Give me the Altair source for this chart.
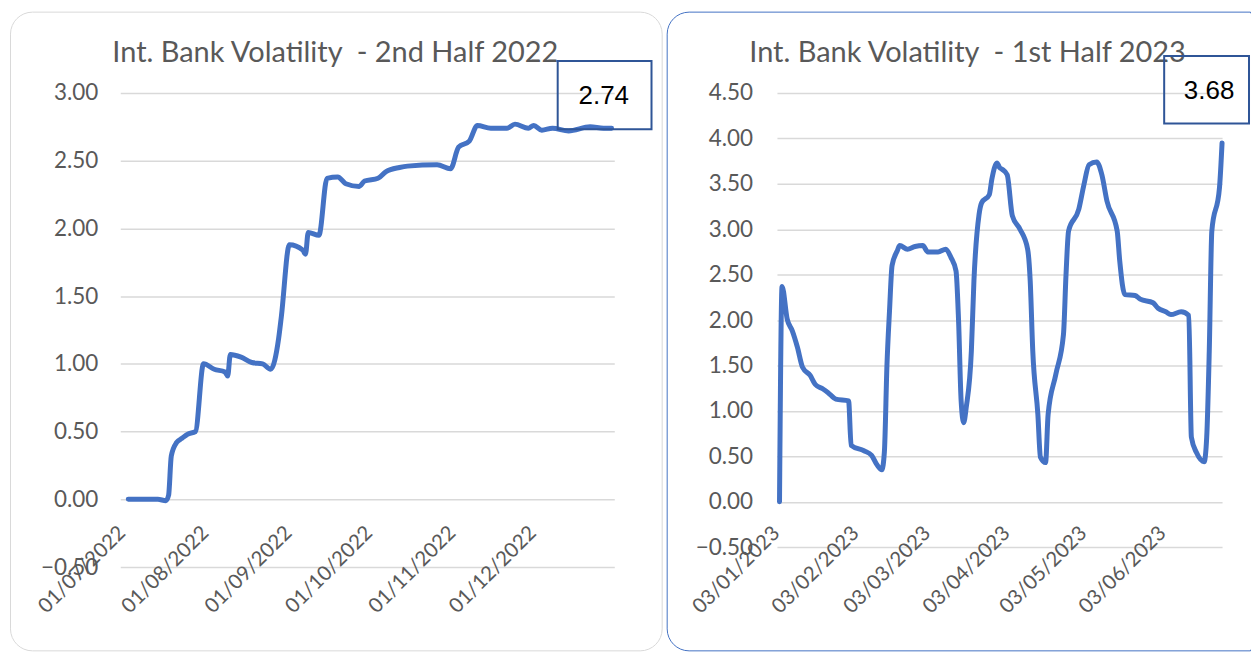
import altair as alt
import pandas as pd

# ---------------- data ----------------
dates_2022 = [
    "2022-07-01", "2022-07-12", "2022-07-15", "2022-07-16", "2022-07-17", "2022-07-19",
    "2022-07-21", "2022-07-23", "2022-07-26", "2022-07-29", "2022-08-02", "2022-08-06",
    "2022-08-07", "2022-08-08", "2022-08-12", "2022-08-16", "2022-08-20", "2022-08-23",
    "2022-08-26", "2022-08-27", "2022-08-30", "2022-09-04", "2022-09-05", "2022-09-06",
    "2022-09-10", "2022-09-13", "2022-09-17", "2022-09-20", "2022-09-25", "2022-09-27",
    "2022-10-02", "2022-10-05", "2022-10-10", "2022-10-13", "2022-10-24", "2022-10-29",
    "2022-11-01", "2022-11-05", "2022-11-08", "2022-11-13", "2022-11-19", "2022-11-22",
    "2022-11-27", "2022-11-29", "2022-12-02", "2022-12-06", "2022-12-12", "2022-12-20",
    "2022-12-25", "2022-12-28",
]
vol_2022 = [
    0.00, 0.00, -0.01, 0.03, 0.32, 0.42,
    0.45, 0.48, 0.50, 1.00, 0.96, 0.94,
    0.91, 1.07, 1.05, 1.01, 1.00, 0.96,
    1.19, 1.35, 1.88, 1.84, 1.81, 1.97,
    1.95, 2.37, 2.38, 2.33, 2.31, 2.35,
    2.37, 2.42, 2.45, 2.46, 2.47, 2.44,
    2.60, 2.645, 2.76, 2.74, 2.74, 2.77,
    2.74, 2.76, 2.725, 2.74, 2.72, 2.75,
    2.74, 2.74,
]

dates_2023 = [
    "2023-01-03", "2023-01-04", "2023-01-06", "2023-01-08", "2023-01-10", "2023-01-12",
    "2023-01-15", "2023-01-17", "2023-01-20", "2023-01-22", "2023-01-25", "2023-01-30",
    "2023-01-31", "2023-02-05", "2023-02-08", "2023-02-10", "2023-02-12", "2023-02-13",
    "2023-02-14", "2023-02-15", "2023-02-16", "2023-02-18", "2023-02-19", "2023-02-22",
    "2023-02-25", "2023-02-28", "2023-03-02", "2023-03-06", "2023-03-09", "2023-03-11",
    "2023-03-13", "2023-03-14", "2023-03-15", "2023-03-16", "2023-03-17", "2023-03-19",
    "2023-03-20", "2023-03-22", "2023-03-23", "2023-03-26", "2023-03-27", "2023-03-29",
    "2023-03-30", "2023-03-31", "2023-04-02", "2023-04-04", "2023-04-07", "2023-04-10",
    "2023-04-11", "2023-04-12", "2023-04-14", "2023-04-15", "2023-04-17", "2023-04-18",
    "2023-04-21", "2023-04-24", "2023-04-25", "2023-04-26", "2023-04-30", "2023-05-02",
    "2023-05-04", "2023-05-07", "2023-05-09", "2023-05-11", "2023-05-15", "2023-05-16",
    "2023-05-18", "2023-05-22", "2023-05-24", "2023-05-29", "2023-05-31", "2023-06-03",
    "2023-06-05", "2023-06-09", "2023-06-12", "2023-06-13", "2023-06-15", "2023-06-18",
    "2023-06-19", "2023-06-20", "2023-06-21", "2023-06-24", "2023-06-25",
]
vol_2023 = [
    0.00, 2.37, 2.01, 1.88, 1.70, 1.48,
    1.39, 1.29, 1.24, 1.20, 1.13, 1.11,
    0.62, 0.56, 0.51, 0.41, 0.35, 0.55,
    1.50, 2.10, 2.60, 2.76, 2.82, 2.78,
    2.81, 2.82, 2.75, 2.75, 2.78, 2.69,
    2.54, 1.99, 1.11, 0.87, 1.04, 1.66,
    2.43, 3.16, 3.29, 3.38, 3.55, 3.73,
    3.68, 3.66, 3.60, 3.15, 3.00, 2.78,
    2.43, 1.66, 0.96, 0.49, 0.43, 0.96,
    1.40, 1.84, 2.50, 2.98, 3.22, 3.49,
    3.71, 3.74, 3.60, 3.31, 2.98, 2.65,
    2.28, 2.27, 2.23, 2.19, 2.13, 2.09,
    2.06, 2.09, 2.05, 0.71, 0.54, 0.44,
    0.71, 1.66, 2.98, 3.46, 3.95,
]

title_2022 = "Int. Bank Volatility\u00a0 - 2nd Half 2022"
title_2023 = "Int. Bank Volatility\u00a0 - 1st Half 2023"
label_2022 = "2.74"
label_2023 = "3.68"

x_ticks_2022 = ["2022-07-01", "2022-08-01", "2022-09-01", "2022-10-01", "2022-11-01", "2022-12-01"]
x_ticks_2023 = ["2023-01-03", "2023-02-03", "2023-03-03", "2023-04-03", "2023-05-03", "2023-06-03"]
x_domain_2022 = ["2022-06-28", "2022-12-29"]
x_domain_2023 = ["2023-01-02", "2023-06-25"]
y_ticks_2022 = [-0.5, 0.0, 0.5, 1.0, 1.5, 2.0, 2.5, 3.0]
y_ticks_2023 = [-0.5, 0.0, 0.5, 1.0, 1.5, 2.0, 2.5, 3.0, 3.5, 4.0, 4.5]


def ms(s):
    return int(pd.Timestamp(s, tz="UTC").value // 10**6)


LINE = "#4472C4"
GREY_TXT = "#595959"
GRID = "#D9D9D9"
BOX = "#2F5597"


def panel(dates, vals, title, label, xdom, xticks, yticks, w, h,
          lab_pad, lab_off, border_color, border_box, radii, title_pos, ylab_pad,
          box, label_xy, open_right):
    df = pd.DataFrame({"date": dates, "vol": vals})
    y_zero_px = h * (yticks[-1] - 0.0) / (yticks[-1] - yticks[0])
    x_enc = alt.X(
        "date:T",
        scale=alt.Scale(type="utc", domain=[ms(d) for d in xdom], nice=False),
        axis=alt.Axis(
            values=[ms(d) for d in xticks],
            labelExpr="utcFormat(datum.value, '%d/%m/%Y')",
            labelAngle=-45, labelAlign="right", labelBaseline="top",
            labelPadding=lab_pad, labelOffset=lab_off, offset=-(h - y_zero_px),
            grid=False, domain=False, ticks=False, labelOverlap=False,
            labelFlush=False, labelBound=False,
            labelFont="Lato", labelFontSize=20.5, labelColor=GREY_TXT, title=None,
        ),
    )
    y_enc = alt.Y(
        "vol:Q",
        scale=alt.Scale(domain=[yticks[0], yticks[-1]], nice=False, zero=False),
        axis=alt.Axis(
            values=yticks, format=".2f", grid=True, gridColor=GRID, gridWidth=1.5,
            domain=False, ticks=False, labelPadding=ylab_pad,
            labelFont="Lato", labelFontSize=22.5, labelColor=GREY_TXT, title=None,
            labelFlush=False,
        ),
    )
    one = pd.DataFrame({"t": [title]})
    border = alt.Chart(one).mark_rect(
        filled=False, stroke=border_color, strokeWidth=1,
        cornerRadiusTopLeft=radii[0], cornerRadiusTopRight=radii[1],
        cornerRadiusBottomLeft=radii[2], cornerRadiusBottomRight=radii[3],
    ).encode(
        x=alt.value(border_box[0]), x2=alt.value(border_box[1]),
        y=alt.value(border_box[2]), y2=alt.value(border_box[3]),
    )
    layers = [border]
    if open_right:
        # panel continues past the window edge: hide its right side
        layers.append(
            alt.Chart(one).mark_rule(color="white", strokeWidth=1.2).encode(
                x=alt.value(border_box[1]), y=alt.value(border_box[2] + 1),
                y2=alt.value(border_box[3] - 1),
            )
        )
    line = alt.Chart(df).mark_line(
        color=LINE, strokeWidth=5, interpolate="monotone",
        strokeCap="round", strokeJoin="round",
    ).encode(x=x_enc, y=y_enc)
    ttl = alt.Chart(one).mark_text(
        font="Lato", fontSize=29, color=GREY_TXT, align="center", baseline="alphabetic"
    ).encode(x=alt.value(title_pos[0]), y=alt.value(title_pos[1]), text="t:N")
    box_mark = alt.Chart(one).mark_rect(
        filled=False, stroke=BOX, strokeWidth=2
    ).encode(
        x=alt.value(box[0]), x2=alt.value(box[1]), y=alt.value(box[2]), y2=alt.value(box[3])
    )
    lab = alt.Chart(pd.DataFrame({"t": [label]})).mark_text(
        font="Liberation Sans", fontSize=26, color="#000000", align="center", baseline="middle"
    ).encode(x=alt.value(label_xy[0]), y=alt.value(label_xy[1]), text="t:N")
    layers += [line, ttl, box_mark, lab]
    return alt.layer(*layers).properties(width=w, height=h)


left = panel(
    dates_2022, vol_2022, title_2022, label_2022, x_domain_2022, x_ticks_2022, y_ticks_2022,
    495, 475, 23, -13.5, "#D9D9D9", (-110, 543, -81, 559), (22, 22, 22, 22), (215.5, -31), 22.5,
    (438.3, 532.3, -32, 36.3), (484.5, 3), False,
)
right = panel(
    dates_2023, vol_2023, title_2023, label_2023, x_domain_2023, x_ticks_2023, y_ticks_2023,
    446, 455, 21, -10.5, "#4472C4", (-110, 474.5, -81, 559), (22, 0, 22, 0), (191, -31), 24.5,
    (388, 473, -37, 30.7), (433, -1.5), True,
)

chart = alt.hconcat(left, right, spacing=3).configure_view(stroke=None).properties(
    padding={"left": 1.5, "top": 2.5, "right": 0, "bottom": 0}
)

chart.save("out.html", embed_options={"renderer": "svg", "actions": False})
